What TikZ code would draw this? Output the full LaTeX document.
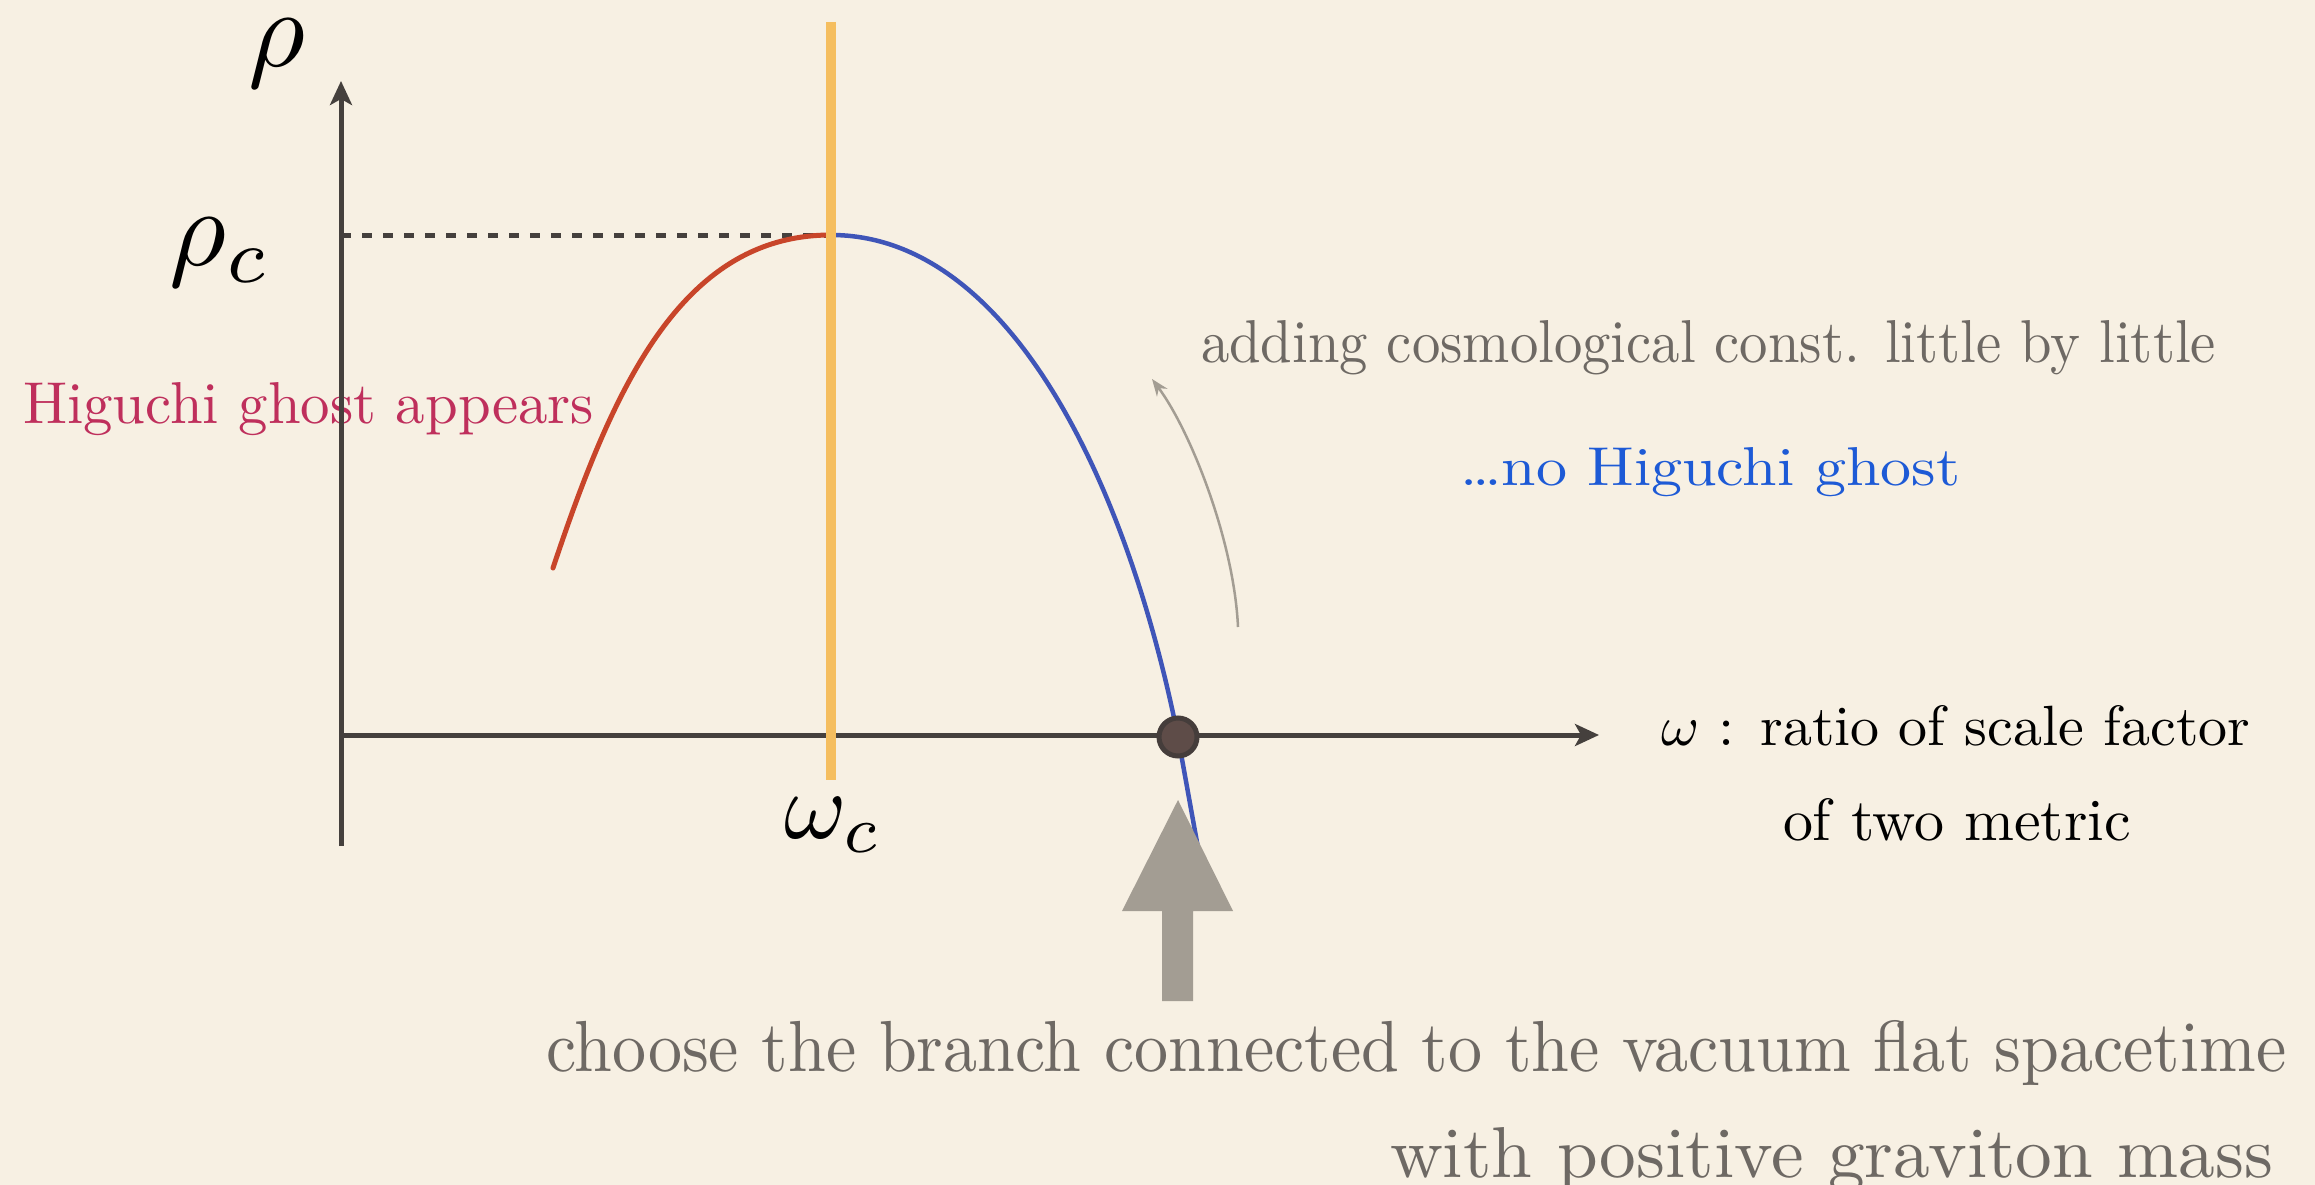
\documentclass[tikz,border=0pt]{standalone}
\usepackage{fontspec}
\usepackage{graphicx}
\usetikzlibrary{arrows.meta}
\definecolor{bgc}{HTML}{F7F0E3}
\definecolor{axisc}{HTML}{45403D}
\definecolor{redc}{HTML}{C8452A}
\definecolor{bluec}{HTML}{3F55B8}
\definecolor{orangec}{HTML}{F5BE5F}
\definecolor{dotfill}{HTML}{5E4C48}
\definecolor{dotdraw}{HTML}{453D3B}
\definecolor{arrowgray}{HTML}{A39D93}
\definecolor{textgray}{HTML}{6E6964}
\definecolor{ghostred}{HTML}{BF2F5C}
\definecolor{bluetext}{HTML}{1D5AD6}
\newcommand{\mybox}[3]{\resizebox{#1pt}{#2pt}{#3}}
\tikzset{
  axisline/.style={line width=5pt, draw=axisc},
  axtip/.style={-{Stealth[length=24pt,width=22pt,inset=6pt]}},
  dashline/.style={line width=5pt, draw=axisc, dash pattern=on 10pt off 11pt},
  curve/.style={line width=5pt, line cap=round},
  lbl/.style={inner sep=0pt, outer sep=0pt, anchor=base west},
  mathlbl/.style={inner sep=0pt, outer sep=0pt},
}
\begin{document}
\begin{tikzpicture}[x=1pt,y=-1pt]
\fill[bgc] (0,0) rectangle (2315,1185);
\useasboundingbox (0,0) rectangle (2315,1185);
\coordinate (O) at (341,735);
\coordinate (ytop) at (341,81);
\coordinate (ybot) at (341,846);
\coordinate (xend) at (1599,735);
\coordinate (peak) at (831,235);
\coordinate (redstart) at (553,568);
\coordinate (blueend) at (1202,870);
\coordinate (otop) at (831,22);
\coordinate (obot) at (831,780);
\coordinate (dashL) at (341,235);
\coordinate (dashR) at (826,235);
\coordinate (gtail) at (1238,627);
\coordinate (ghead) at (1152,379);

\node[lbl, text=ghostred] (ghosttxt) at (23,423) {\mybox{571}{41}{Higuchi ghost appears}};

\draw[dashline] (dashL) -- (dashR);
\draw[axisline, axtip] (ybot) -- (ytop);
\draw[axisline, axtip] (O) -- (xend);

\node[circle, inner sep=0pt, minimum size=1pt] (dotc) at (1178,737) {};

\draw[curve, redc] (redstart) .. controls (613,388) and (681,235) .. (peak);
\draw[curve, bluec, line width=4.5pt] (peak) .. controls (1011,235) and (1128,487) .. (dotc.center) -- (blueend);

\draw[orangec, line width=10pt] (otop) -- (obot);

\node[circle, draw=dotdraw, fill=dotfill, line width=5pt, minimum size=38pt, inner sep=0pt] (dot) at (dotc) {};

\draw[arrowgray, line width=2.5pt, -{Stealth[length=17pt,width=13pt]}] (gtail) .. controls (1234,540) and (1190,430) .. (ghead);

\fill[arrowgray] (1178,800) -- (1233,911) -- (1193,911) -- (1193,1001) -- (1162,1001) -- (1162,911) -- (1122,911) -- cycle;

\node[mathlbl] (rho) at (277,54) {\scalebox{11}{$\rho$}};
\node[mathlbl] (rhoc) at (220,253) {\scalebox{11}{$\rho_c$}};
\node[mathlbl, anchor=base west] (omc) at (784,838) {\scalebox{9.5}{$\omega_c$}};

\node[lbl, text=textgray] (addtxt) at (1201,362) {\mybox{1015}{42}{adding cosmological const. little by little}};
\node[lbl, text=bluetext] (noghost) at (1460,485) {\mybox{500}{38}{\ldots no Higuchi ghost}};
\node[lbl, text=black] (omtxt) at (1661,745) {\mybox{589}{40}{$\omega$ : ratio of scale factor}};
\node[lbl, text=black] (omtxt2) at (1783,840) {\mybox{348}{42}{of two metric}};
\node[lbl, text=textgray] (choose) at (546,1071) {\mybox{1740}{51}{choose the branch connected to the vacuum flat spacetime}};
\node[lbl, text=textgray] (withpos) at (1390,1177) {\mybox{883}{50}{with positive graviton mass}};
\end{tikzpicture}
\end{document}
